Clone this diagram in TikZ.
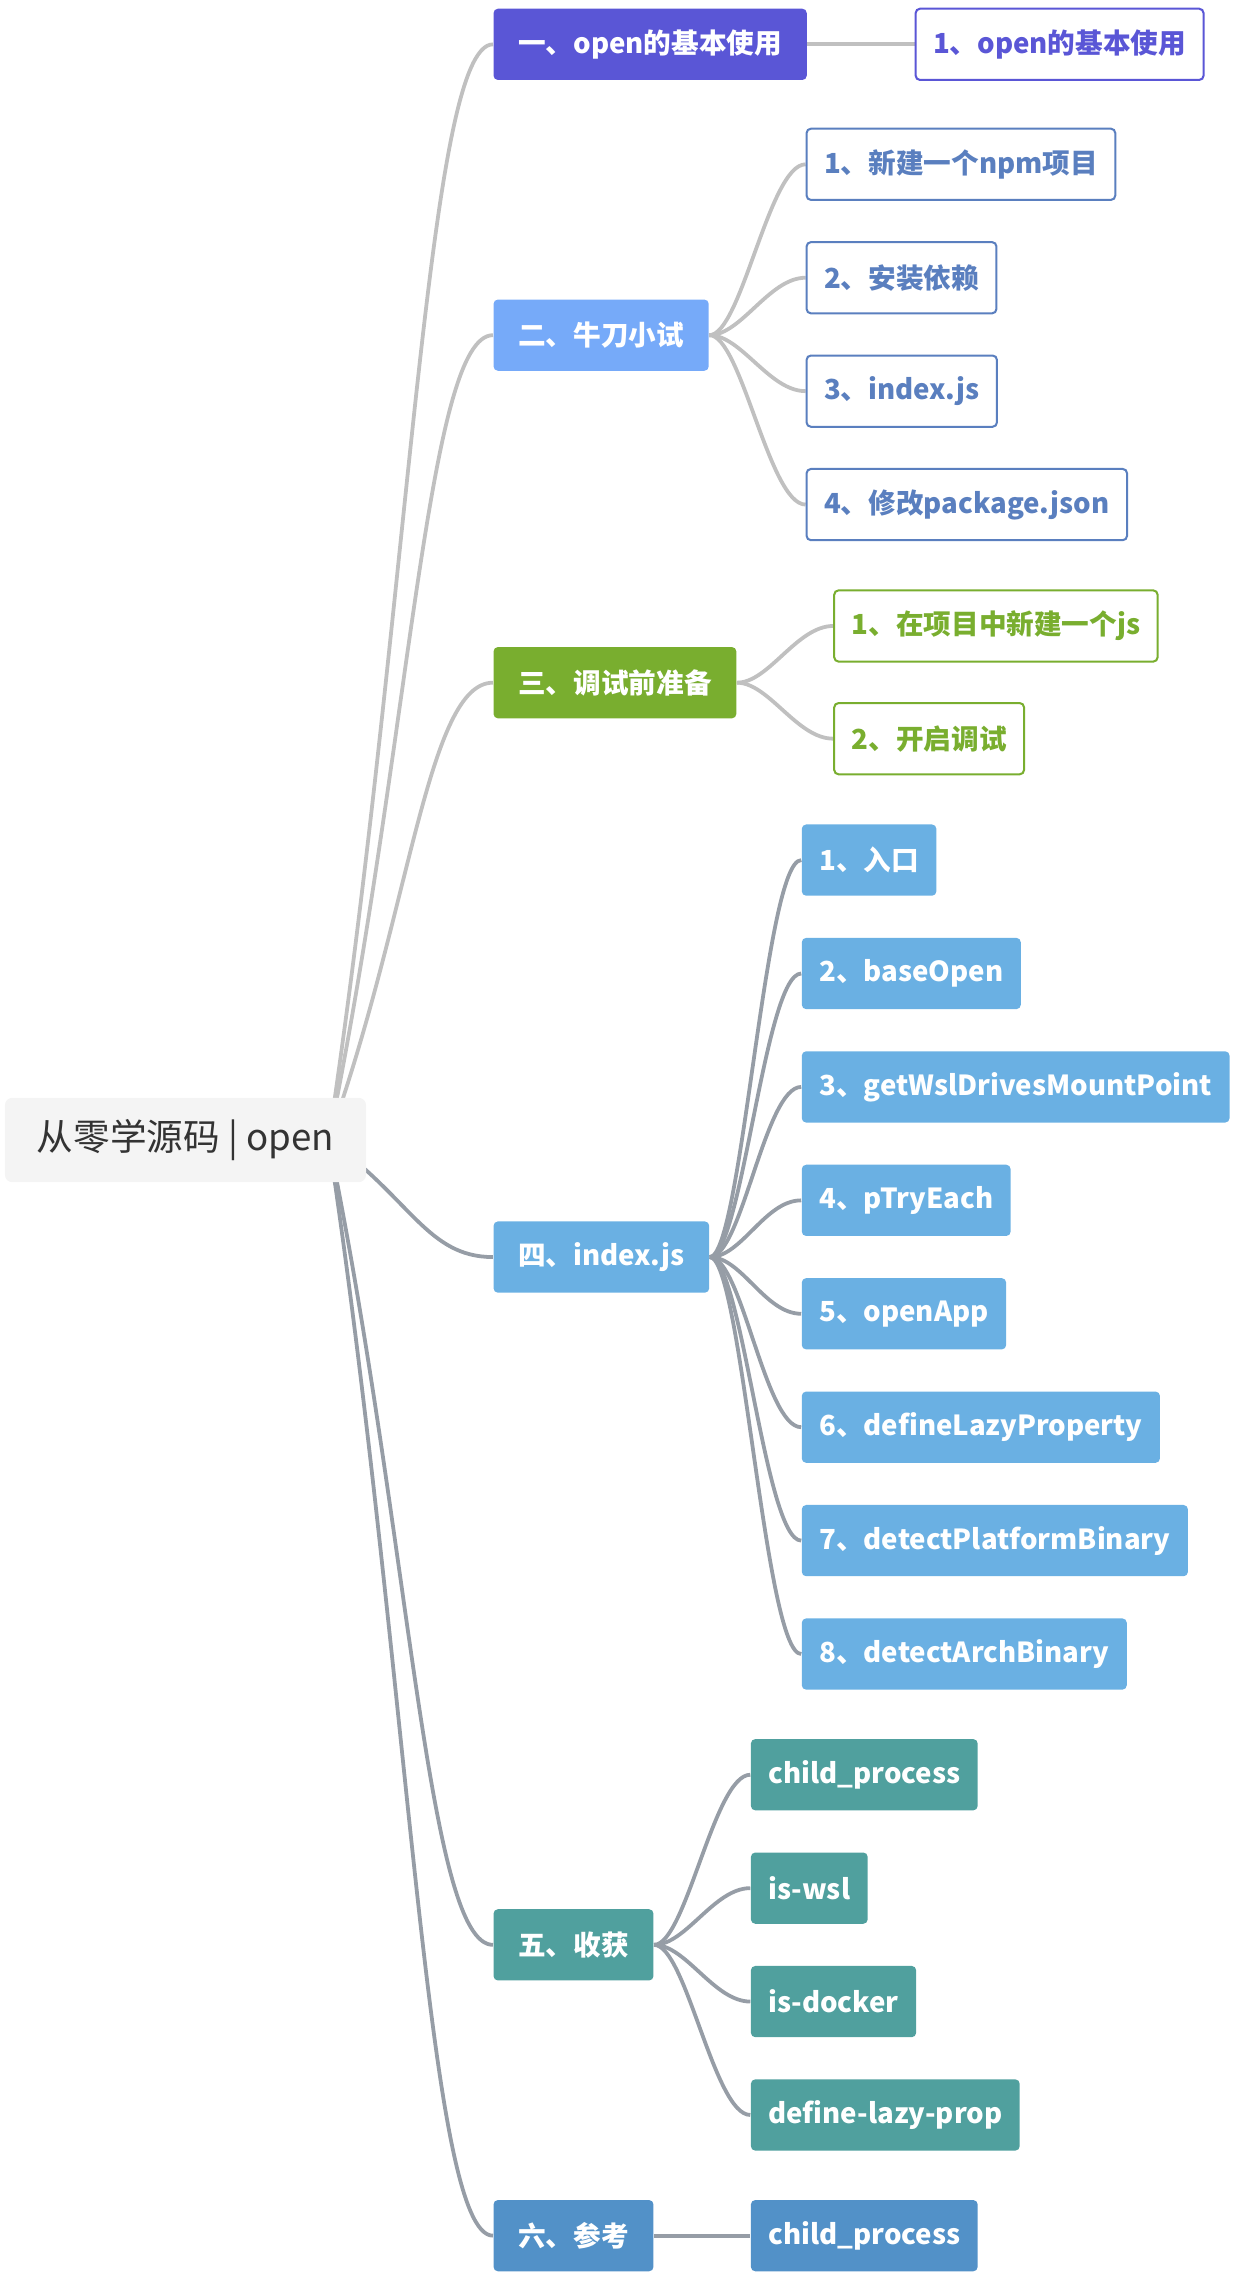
\documentclass[tikz,border=0pt]{standalone}
\usepackage{fontspec}
\setmainfont{Noto Sans CJK SC}
\usetikzlibrary{calc, backgrounds}

\definecolor{rootfill}{HTML}{F4F4F4}
\definecolor{roottext}{HTML}{333333}
\definecolor{purpleA}{HTML}{5A56D6}
\definecolor{blueB}{HTML}{76AAF9}
\definecolor{blueBline}{HTML}{5A7FBF}
\definecolor{greenC}{HTML}{79AE2F}
\definecolor{blueD}{HTML}{6AB0E3}
\definecolor{tealE}{HTML}{50A09E}
\definecolor{blueF}{HTML}{5291C8}
\definecolor{linkLight}{HTML}{C0C0C0}
\definecolor{linkDark}{HTML}{969DA6}

\tikzset{
  topic/.style={anchor=west, rounded corners=1.5pt, minimum height=24.5pt, inner ysep=0pt,
    font=\fontsize{9.5}{11}\selectfont\bfseries},
  maintopic/.style={topic, fill=#1, text=white, inner xsep=8.5pt},
  subfill/.style={topic, fill=#1, text=white, inner xsep=6pt},
  subline/.style={topic, draw=#1, line width=0.7pt, fill=white, text=#1, inner xsep=6pt},
  rootlink/.style={line width=1.3pt, draw=#1,
    to path={.. controls ($(\tikztostart)!0.5!(\tikztotarget)$) and ($(\tikztotarget)+(-45,0)$) .. (\tikztotarget)}},
  sublink/.style={line width=1.3pt, draw=#1,
    to path={.. controls ($(\tikztostart)+(22,0)$) and ($(\tikztotarget)+(-25,0)$) .. (\tikztotarget)}},
}

\begin{document}
\begin{tikzpicture}[x=0.5pt, y=-0.5pt]
\useasboundingbox (0,0) rectangle (854,1568);

% central topic
\node[anchor=west, fill=rootfill, text=roottext, rounded corners=2.5pt, minimum height=29pt,
      inner xsep=11pt, font=\fontsize{12.6}{15}\selectfont] (root) at (3,784) {从零学源码 | open};
\coordinate (hub) at (226,784);

% main branches
\node[maintopic=purpleA] (intro)  at (339,30.5)   {一、open的基本使用};
\node[maintopic=blueB]   (trial)  at (339,230.5)  {二、牛刀小试};
\node[maintopic=greenC]  (debug)  at (339,469.5)  {三、调试前准备};
\node[maintopic=blueD]   (source) at (339,864.5)  {四、index.js};
\node[maintopic=tealE]   (gain)   at (339,1337.5) {五、收获};
\node[maintopic=blueF]   (refer)  at (339,1537.5) {六、参考};

% sub topics
\node[subline=purpleA] (intro1) at (629,30.5) {1、open的基本使用};

\node[subline=blueBline] (trial1) at (554,113) {1、新建一个npm项目};
\node[subline=blueBline] (trial2) at (554,191) {2、安装依赖};
\node[subline=blueBline] (trial3) at (554,269) {3、index.js};
\node[subline=blueBline] (trial4) at (554,347) {4、修改package.json};

\node[subline=greenC] (debug1) at (573,430.5) {1、在项目中新建一个js};
\node[subline=greenC] (debug2) at (573,508)   {2、开启调试};

\foreach \lbl [count=\i] in {1、入口, 2、baseOpen, 3、getWslDrivesMountPoint, 4、pTryEach,
    5、openApp, 6、defineLazyProperty, 7、detectPlatformBinary, 8、detectArchBinary}
  \node[subfill=blueD] (src\i) at (551,513.5+78*\i) {\lbl};

\node[subfill=tealE] (gain1) at (516,1220.5) {child\_process};
\node[subfill=tealE] (gain2) at (516,1298.5) {is-wsl};
\node[subfill=tealE] (gain3) at (516,1376.5) {is-docker};
\node[subfill=tealE] (gain4) at (516,1454.5) {define-lazy-prop};

\node[subfill=blueF] (refer1) at (516,1537.5) {child\_process};

% connectors
\begin{scope}[on background layer]
  \draw[rootlink=linkLight] (hub) to (intro.west);
  \draw[rootlink=linkLight] (hub) to (trial.west);
  \draw[rootlink=linkLight] (hub) to (debug.west);
  \draw[rootlink=linkDark]  (hub) to (source.west);
  \draw[rootlink=linkDark]  (hub) to (gain.west);
  \draw[rootlink=linkDark]  (hub) to (refer.west);

  \draw[sublink=linkLight] (intro.east) to (intro1.west);
  \foreach \i in {1,...,4}
    \draw[sublink=linkLight] (trial.east) to (trial\i.west);
  \foreach \i in {1,2}
    \draw[sublink=linkLight] (debug.east) to (debug\i.west);
  \foreach \i in {1,...,8}
    \draw[sublink=linkDark] (source.east) to (src\i.west);
  \foreach \i in {1,...,4}
    \draw[sublink=linkDark] (gain.east) to (gain\i.west);
  \draw[sublink=linkDark] (refer.east) to (refer1.west);
\end{scope}
\end{tikzpicture}
\end{document}
